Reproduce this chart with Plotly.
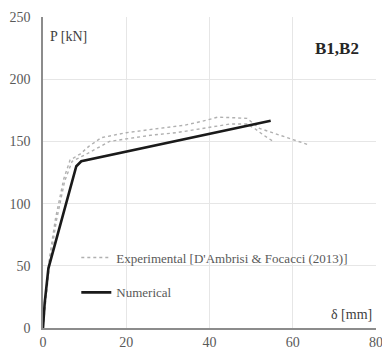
import plotly.graph_objects as go

# Load-deflection data, beams B1 and B2
exp_b1_x = [0, 0.5, 1.5, 3, 5, 6.5, 9, 11, 14, 20, 28, 34, 38, 42, 46, 49, 52, 56, 60, 62.5, 64]
exp_b1_y = [0, 22, 55, 88, 120, 135, 140, 146, 153, 157, 160.5, 163, 166, 169.5, 169, 168.5, 160.5, 156, 151, 148.5, 147]
exp_b2_x = [0, 0.6, 1.6, 3.2, 5.2, 7, 10, 16, 26, 32, 38, 45, 49, 51, 53, 55.3]
exp_b2_y = [0, 22, 52, 86, 118, 134, 139, 150, 155, 157, 160, 164, 164, 160, 155, 150]
num_x = [0, 0.4, 1.3, 8.0, 9.2, 54.7]
num_y = [0, 20, 48, 130, 134, 166.6]

x_ticks = [0, 20, 40, 60, 80]
y_ticks = [0, 50, 100, 150, 200, 250]

font_family = "'Liberation Serif', 'Times New Roman', serif"
grey_text = "#595959"

fig = go.Figure()
fig.add_trace(go.Scatter(
    x=exp_b1_x, y=exp_b1_y, mode="lines",
    line=dict(color="#b0b0b0", width=1.4, dash="dot"),
    name="Experimental [D'Ambrisi & Focacci (2013)]",
    legendgroup="exp",
))
fig.add_trace(go.Scatter(
    x=exp_b2_x, y=exp_b2_y, mode="lines",
    line=dict(color="#b0b0b0", width=1.4, dash="dot"),
    showlegend=False, legendgroup="exp",
))
fig.add_trace(go.Scatter(
    x=num_x, y=num_y, mode="lines",
    line=dict(color="#1a1a1a", width=2.6),
    name="Numerical", legendgroup="num",
))

fig.update_layout(
    width=382, height=352,
    margin=dict(l=43, r=6, t=17, b=24, autoexpand=False),
    paper_bgcolor="white", plot_bgcolor="white",
    font=dict(family=font_family, color=grey_text, size=13),
    legend=dict(
        x=0.1, y=0.275, xanchor="left", yanchor="top",
        bgcolor="rgba(0,0,0,0)", tracegroupgap=15,
        font=dict(family=font_family, size=13, color=grey_text),
        itemwidth=30,
    ),
    xaxis=dict(
        range=[0, 80], tickvals=x_ticks, showgrid=True, gridcolor="#e6e6e6",
        gridwidth=1, zeroline=False, showline=True, linecolor="#8c8c8c",
        linewidth=1.5, ticks="", automargin=False, ticklabeloverflow="allow",
        tickfont=dict(family=font_family, size=14, color=grey_text),
    ),
    yaxis=dict(
        range=[0, 250], tickvals=y_ticks, showgrid=True, gridcolor="#e6e6e6",
        gridwidth=1, zeroline=False, showline=True, linecolor="#8c8c8c",
        linewidth=1.5, ticks="", ticklabelstandoff=8, automargin=False,
        ticklabeloverflow="allow",
        tickfont=dict(family=font_family, size=14, color=grey_text),
    ),
    annotations=[
        dict(text="P [kN]", xref="x", yref="y", x=1.2, y=234, showarrow=False,
             xanchor="left", yanchor="middle",
             font=dict(family=font_family, size=14, color="#404040")),
        dict(text="<b>B1,B2</b>", xref="x", yref="y", x=76.5, y=225, showarrow=False,
             xanchor="right", yanchor="middle",
             font=dict(family=font_family, size=17, color="#262626")),
        dict(text="δ [mm]", xref="x", yref="y", x=79.5, y=11, showarrow=False,
             xanchor="right", yanchor="middle",
             font=dict(family=font_family, size=14, color="#404040")),
    ],
)

fig.write_html("out.html")
